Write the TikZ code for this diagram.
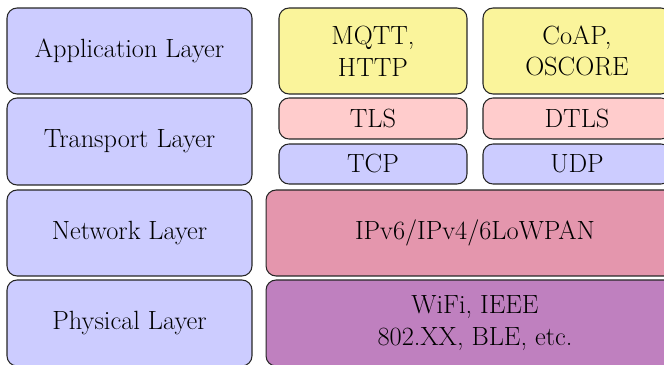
\documentclass[tikz,border=0pt]{standalone}
\usepackage{amsmath}
\usetikzlibrary{positioning}
\definecolor{layerblue}{RGB}{204,204,255}
\definecolor{appyellow}{RGB}{250,244,155}
\definecolor{secpink}{RGB}{255,204,204}
\definecolor{netpink}{RGB}{228,150,173}
\definecolor{phypurple}{RGB}{191,128,191}
\tikzset{>=stealth,
  box/.style={draw=black!85, line width=0.6pt, rounded corners=0.2cm, align=center,
    inner sep=0pt, outer sep=0pt, font=\fontsize{15}{18}\selectfont},
  layerbox/.style={box, fill=layerblue, minimum width=4.9cm},
  protobox/.style={box, minimum width=3.76cm}}

\begin{document}
\begin{tikzpicture}[x=0.02cm, y=-0.02cm]
\path[use as bounding box, clip] (0,0) rectangle (664,365);
% layers
\node[layerbox, minimum height=1.72cm] (app) at (129.5,51) {Application Layer};
\node[layerbox, minimum height=1.74cm] (trans) at (129.5,141.5) {Transport Layer};
\node[layerbox, minimum height=1.72cm] (net) at (129.5,233) {Network Layer};
\node[layerbox, minimum height=1.72cm] (phy) at (129.5,323) {Physical Layer};
% protocols
\node[protobox, fill=appyellow, minimum height=1.72cm] (mqtt) at (373,51) {MQTT,\\HTTP};
\node[protobox, fill=appyellow, minimum height=1.72cm] (coap) at (577,51) {CoAP,\\OSCORE};
\node[protobox, fill=secpink, minimum height=0.82cm] (tls) at (373,118.5) {TLS};
\node[protobox, fill=secpink, minimum height=0.82cm] (dtls) at (577,118.5) {DTLS};
\node[protobox, fill=layerblue, minimum height=0.8cm] (tcp) at (373,164) {TCP};
\node[protobox, fill=layerblue, minimum height=0.8cm] (udp) at (577,164) {UDP};
\node[box, fill=netpink, minimum width=8.36cm, minimum height=1.72cm] (ip) at (475,233) {IPv6/IPv4/6LoWPAN};
\node[box, fill=phypurple, minimum width=8.36cm, minimum height=1.72cm] (link) at (475,323) {WiFi, IEEE\\802.XX, BLE, etc.};
\end{tikzpicture}
\end{document}
